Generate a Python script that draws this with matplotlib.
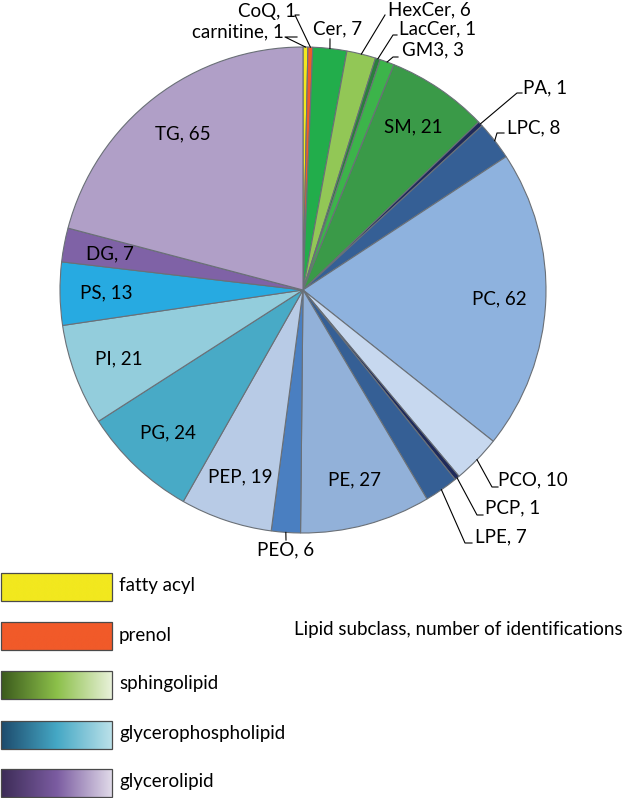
import numpy as np
import matplotlib.pyplot as plt
from matplotlib.colors import LinearSegmentedColormap

plt.rcParams['font.family'] = ['Lato', 'DejaVu Sans']

# dados: subclasses no sentido horario a partir do topo
subclasses = ['carnitine', 'CoQ', 'Cer', 'HexCer', 'LacCer', 'GM3', 'SM', 'PA', 'LPC',
              'PC', 'PCO', 'PCP', 'LPE', 'PE', 'PEO', 'PEP', 'PG', 'PI', 'PS', 'DG', 'TG']
contagens = [1, 1, 7, 6, 1, 3, 21, 1, 8, 62, 10, 1, 7, 27, 6, 19, 24, 21, 13, 7, 65]
cores = ['#f2e81e', '#f15a29', '#22ad4b', '#92c756', '#2a7f3c', '#3cb44a', '#3a9a48',
         '#1f2a5a', '#355f95', '#8eb2de', '#c7d8ef', '#1f2a5a', '#355f95', '#92b1d9',
         '#4a7fc1', '#b8cbe6', '#48aac6', '#93cddc', '#27aae1', '#7f62a6', '#b09fc7']
classes = ['fatty acyl', 'prenol', 'sphingolipid', 'glycerophospholipid', 'glycerolipid']
cores_classes = [['#f2e81e', '#f2e81e'], ['#f15a29', '#f15a29'],
                 ['#3b5a1c', '#8cc04a', '#eaf2dc'],
                 ['#1d4a6c', '#45a8c5', '#bde2ea'],
                 ['#3d2c57', '#7b5ca1', '#e2dcea']]

# rotulos externos: (x, y, alinhamento, cotovelo) em pixels
externos = {
    'carnitine': (284, 32, 'right', [(285, 37), (297, 37)]),
    'CoQ': (296, 11, 'right', [(295, 15), (299, 15)]),
    'Cer': (338, 29, 'center', [(330, 39)]),
    'HexCer': (388, 10, 'left', [(385, 15)]),
    'LacCer': (399, 29, 'left', [(393, 35), (397, 35)]),
    'GM3': (402, 50, 'left', [(393, 57), (398, 57)]),
    'PA': (523, 88, 'left', [(517, 93), (522, 93)]),
    'LPC': (507, 128, 'left', [(497, 133), (504, 133)]),
    'PCO': (498, 480, 'left', [(492, 487), (498, 487)]),
    'PCP': (485, 508, 'left', [(477, 515), (483, 515)]),
    'LPE': (475, 537, 'left', [(465, 543), (472, 543)]),
    'PEO': (286, 550, 'center', [(286, 540)]),
}

W, H = 624, 798
cx, cy, raio = 303, 290, 243
fs = 13.5

fig = plt.figure(figsize=(W / 100, H / 100), dpi=100)
ax = fig.add_axes([0, 0, 1, 1])

fatias, _ = ax.pie(contagens, colors=cores, startangle=90, counterclock=False,
                   center=(cx, H - cy), radius=raio, frame=True,
                   wedgeprops=dict(edgecolor='#6a7077', linewidth=0.8))
ax.set_xlim(0, W)
ax.set_ylim(0, H)
ax.set_aspect('equal')
ax.axis('off')

for nome, n, fatia in zip(subclasses, contagens, fatias):
    ang = np.deg2rad((fatia.theta1 + fatia.theta2) / 2)
    texto = '%s, %d' % (nome, n)
    if nome in externos:
        tx, ty, ha, cotovelo = externos[nome]
        bx = cx + raio * np.cos(ang)
        by = H - cy + raio * np.sin(ang)
        xs = [bx] + [p[0] for p in cotovelo]
        ys = [by] + [H - p[1] for p in cotovelo]
        ax.plot(xs, ys, color='black', lw=0.8)
        ax.text(tx, H - ty, texto, ha=ha, va='center', fontsize=fs)
    else:
        ax.text(cx + 0.81 * raio * np.cos(ang), H - cy + 0.81 * raio * np.sin(ang),
                texto, ha='center', va='center', fontsize=fs)

# legenda com gradientes
topos = [573, 622, 671, 721, 769]
for nome, cc, topo in zip(classes, cores_classes, topos):
    cmap = LinearSegmentedColormap.from_list(nome, cc)
    ax.imshow(np.linspace(0, 1, 256).reshape(1, -1), cmap=cmap, aspect='auto',
              extent=(0.5, 112, H - topo - 28, H - topo), zorder=2)
    ax.add_patch(plt.Rectangle((0.5, H - topo - 28), 111.5, 28, fill=False,
                               edgecolor='#4a4a4a', lw=0.9, zorder=3))
    ax.text(119, H - topo - 13, nome, ha='left', va='center', fontsize=fs)

ax.set_xlim(0, W)
ax.set_ylim(0, H)
ax.text(623, H - 629, 'Lipid subclass, number of identifications', ha='right',
        va='center', fontsize=fs)

fig.savefig('out.png', dpi=100)
